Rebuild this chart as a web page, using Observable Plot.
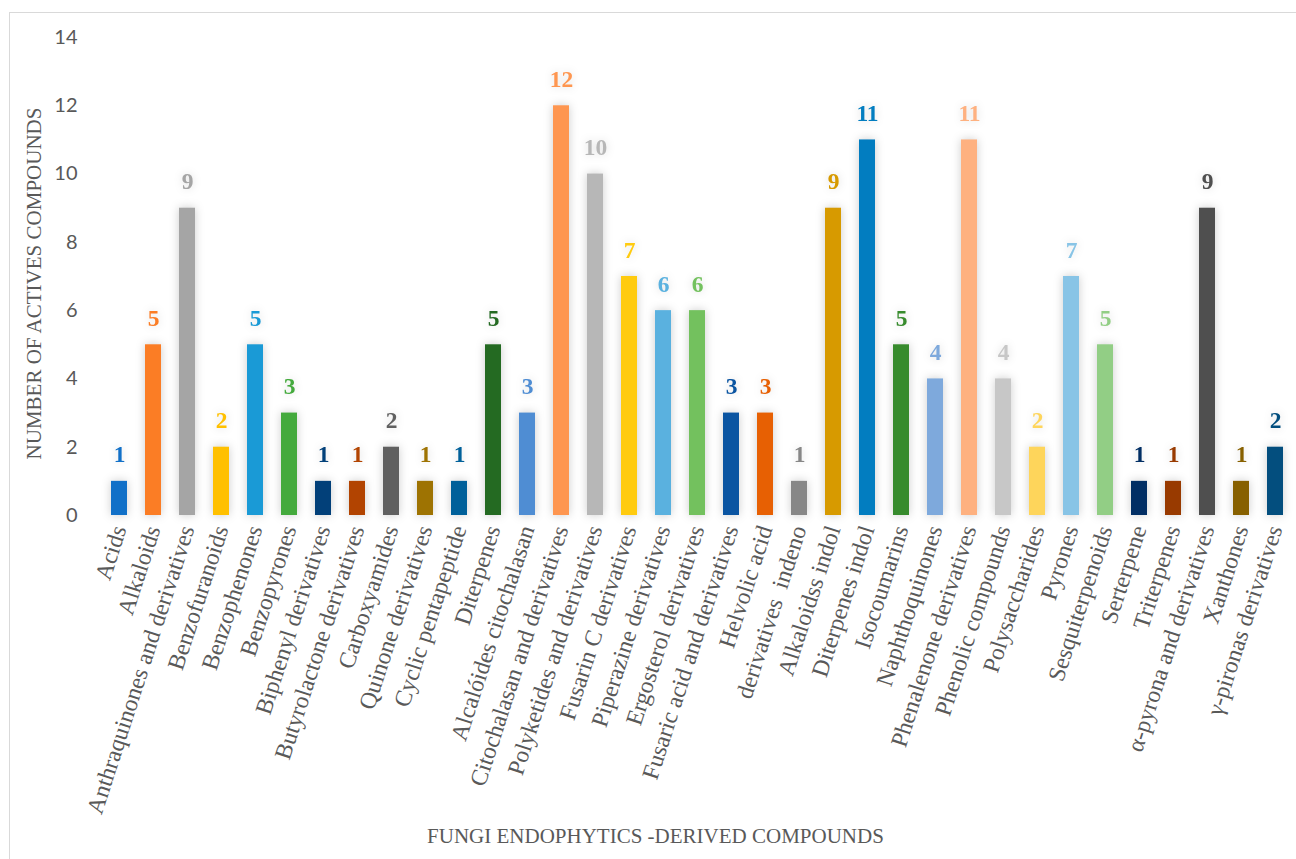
<!DOCTYPE html>
<html>
<head>
<meta charset="utf-8">
<script src="https://cdn.jsdelivr.net/npm/d3@7"></script>
<script src="https://cdn.jsdelivr.net/npm/@observablehq/plot@0.6"></script>
<style>
  html, body { margin: 0; padding: 0; background: #fff; }
  #wrap { position: relative; width: 1296px; height: 859px; overflow: hidden; }
  #frame { position: absolute; left: 9px; top: 12px; width: 1400px; height: 900px; border: 1.5px solid #d9d9d9; pointer-events: none; box-sizing: border-box; }
</style>
</head>
<body>
<div id="wrap"><div id="frame"></div></div>
<script>
const categories = [
  "Acids", "Alkaloids", "Anthraquinones and derivatives", "Benzofuranoids", "Benzophenones",
  "Benzopyrones", "Biphenyl derivatives", "Butyrolactone derivatives", "Carboxyamides",
  "Quinone derivatives", "Cyclic pentapeptide", "Diterpenes", "Alcalóides citochalasan",
  "Citochalasan and derivatives", "Polyketides and derivatives", "Fusarin C derivatives",
  "Piperazine derivatives", "Ergosterol derivatives", "Fusaric acid and derivatives",
  "Helvolic acid", "derivatives  indeno", "Alkaloidss indol", "Diterpenes indol",
  "Isocoumarins", "Naphthoquinones", "Phenalenone derivatives", "Phenolic compounds",
  "Polysaccharides", "Pyrones", "Sesquiterpenoids", "Serterpene", "Triterpenes",
  "α-pyrona and derivatives", "Xanthones", "γ-pironas derivatives"
];
const counts = [1, 5, 9, 2, 5, 3, 1, 1, 2, 1, 1, 5, 3, 12, 10, 7, 6, 6, 3, 3, 1, 9, 11, 5, 4, 11, 4, 2, 7, 5, 1, 1, 9, 1, 2];
const colors = [
  "#1170c8", "#fb7d25", "#a5a5a5", "#ffc000", "#1a9ad6", "#44aa3d", "#024079", "#b24401",
  "#606060", "#9e7302", "#00609a", "#246a22", "#4f8dd3", "#fe9650", "#b7b7b7", "#ffcb0f",
  "#5ab1df", "#73c15e", "#0b55a2", "#e76003", "#878787", "#d79a00", "#027dc0", "#378b2d",
  "#7ea9dc", "#feb180", "#c7c7c7", "#fed55b", "#88c4e6", "#92ce85", "#012e64", "#983a00",
  "#4f4f4f", "#876000", "#034e7e"
];
const yTicks = [0, 2, 4, 6, 8, 10, 12, 14];
const xTitle = "FUNGI ENDOPHYTICS -DERIVED COMPOUNDS";
const yTitle = "NUMBER OF ACTIVES COMPOUNDS";

const data = categories.map((c, i) => ({name: c, value: counts[i], color: colors[i]}));

const serif = "Liberation Serif";

const chart = Plot.plot({
  width: 1296,
  height: 859,
  marginLeft: 98,
  marginRight: 0,
  marginTop: 37,
  marginBottom: 344,
  style: {background: "transparent", overflow: "visible"},
  x: {domain: categories, paddingInner: 0.52, paddingOuter: 0.26, label: null},
  y: {domain: [0, 14], label: null},
  color: {type: "identity"},
  marks: [
    Plot.axisY({ticks: yTicks, tickSize: 0, tickPadding: 21, fontSize: 20, fill: "#595959",
      fontFamily: "Lato", label: null}),
    Plot.axisX({tickSize: 0, tickRotate: -72, tickPadding: 11, fontSize: 23.7, fill: "#595959",
      fontFamily: serif, label: null}),
    Plot.barY(data, {x: "name", y: "value", fill: "color"}),
    Plot.text(data, {x: "name", y: "value", text: d => String(d.value), fill: "color",
      lineAnchor: "bottom", dy: -19, fontSize: 23.5, fontWeight: "bold", fontFamily: serif}),
    Plot.text([xTitle], {text: d => d, frameAnchor: "bottom", textAnchor: "middle", lineAnchor: "middle",
      dx: -42, dy: 321, fontSize: 21, fill: "#595959", fontFamily: serif}),
    Plot.text([yTitle], {text: d => d, frameAnchor: "left", textAnchor: "middle", lineAnchor: "middle",
      rotate: -90, dx: -64, dy: 7, fontSize: 21, fill: "#595959", fontFamily: serif})
  ]
});
chart.style.position = "absolute";
chart.style.left = "0px";
chart.style.top = "0px";
// soft glow around bars and value labels, as in the reference
d3.select(chart).selectAll("g[aria-label='bar'] rect").style("filter", "drop-shadow(0 0 5px rgba(0,0,0,0.2))");
const textGroups = chart.querySelectorAll("g[aria-label='text']");
if (textGroups.length) d3.select(textGroups[0]).selectAll("text").style("filter", "drop-shadow(0 0 4px rgba(0,0,0,0.14))");
document.getElementById("wrap").appendChild(chart);
</script>
</body>
</html>
